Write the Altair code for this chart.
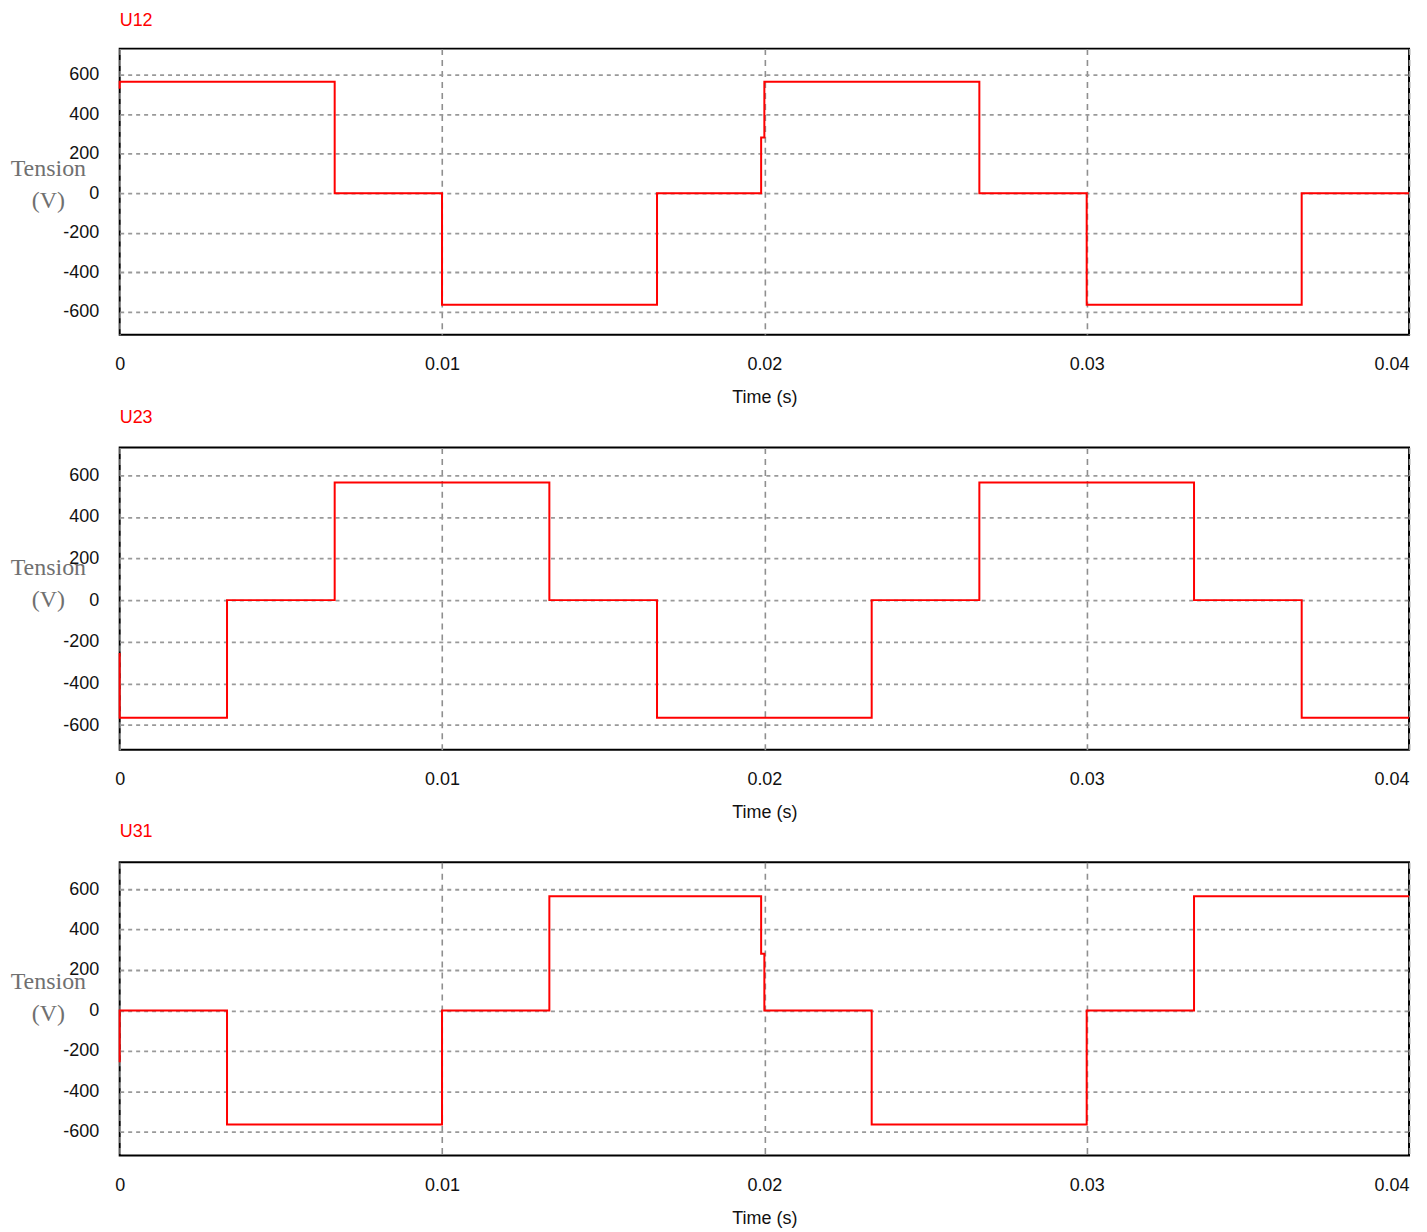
import altair as alt
import pandas as pd

# ---- data ----
X_TICKS = [0, 0.01, 0.02, 0.03, 0.04]
Y_TICKS = [-600, -400, -200, 0, 200, 400, 600]

U12_t = [0, 0, 0.00667, 0.00667, 0.01, 0.01, 0.01667, 0.01667, 0.0199, 0.0199, 0.02, 0.02,
         0.02667, 0.02667, 0.03, 0.03, 0.03667, 0.03667, 0.04]
U12_v = [530, 565, 565, 0, 0, -565, -565, 0, 0, 283, 283, 565,
         565, 0, 0, -565, -565, 0, 0]

U23_t = [0, 0, 0.00333, 0.00333, 0.00667, 0.00667, 0.01333, 0.01333, 0.01667, 0.01667,
         0.02333, 0.02333, 0.02667, 0.02667, 0.03333, 0.03333, 0.03667, 0.03667, 0.04]
U23_v = [-254, -565, -565, 0, 0, 565, 565, 0, 0, -565,
         -565, 0, 0, 565, 565, 0, 0, -565, -565]

U31_t = [0, 0, 0.00333, 0.00333, 0.01, 0.01, 0.01333, 0.01333, 0.0199, 0.0199, 0.02, 0.02,
         0.02333, 0.02333, 0.03, 0.03, 0.03333, 0.03333, 0.04]
U31_v = [-256, 0, 0, -565, -565, 0, 0, 565, 565, 280, 280, 0,
         0, -565, -565, 0, 0, 565, 565]

PANELS = [("U12", U12_t, U12_v, 287, 19), ("U23", U23_t, U23_v, 303, 21), ("U31", U31_t, U31_v, 294, 21)]

SANS = "Liberation Sans"
SERIF = "Liberation Serif"


def panel(name, t, v, h, toff):
    df = pd.DataFrame({"t": t, "v": v, "i": list(range(len(t)))})
    title = alt.Title(name, anchor="start", frame="group", color="#ff0000", fontSize=18,
                      font=SANS, fontWeight="normal", offset=toff)
    return (
        alt.Chart(df, title=title)
        .mark_line(color="#ff0000", strokeWidth=2)
        .encode(
            x=alt.X("t:Q",
                    scale=alt.Scale(domain=[0, 0.04], nice=False, zero=False),
                    axis=alt.Axis(values=X_TICKS, title="Time (s)", labelExpr="'' + datum.value",
                                  labelAlign=alt.expr("datum.value >= 0.0399 ? 'right' : 'center'"),
                                  labelFont=SANS, labelFontSize=18, labelColor="#111111",
                                  labelPadding=21, ticks=False, tickSize=0, domain=False,
                                  titleFont=SANS, titleFontSize=18, titleFontWeight="normal",
                                  titleColor="#111111", titlePadding=15,
                                  grid=True, gridColor="#8f8f8f", gridDash=[6, 5], gridWidth=1.6)),
            y=alt.Y("v:Q",
                    scale=alt.Scale(domain=[-718, 733], nice=False, zero=False),
                    axis=alt.Axis(values=Y_TICKS, labelExpr="'' + datum.value",
                                  labelFont=SANS, labelFontSize=18, labelColor="#111111",
                                  labelPadding=21, ticks=False, tickSize=0, domain=False,
                                  title=["Tension", "(V)"], titleAngle=0, titleAlign="center",
                                  titleBaseline="alphabetic", titleX=-72, titleY=127,
                                  titleFont=SERIF, titleFontSize=24, titleFontWeight="normal",
                                  titleColor="#707070", titleLineHeight=32,
                                  grid=True, gridColor="#999999", gridDash=[4, 4], gridWidth=1.8)),
            order="i:Q",
        )
        .properties(width=1293, height=h)
    )


chart = (
    alt.vconcat(*[panel(*p) for p in PANELS], spacing=0)
    .properties(padding={"left": 1, "top": 1, "right": 5, "bottom": 5})
    .configure_view(stroke="black", strokeWidth=2)
)

chart.save("out.html", embed_options={"renderer": "svg", "actions": False})
